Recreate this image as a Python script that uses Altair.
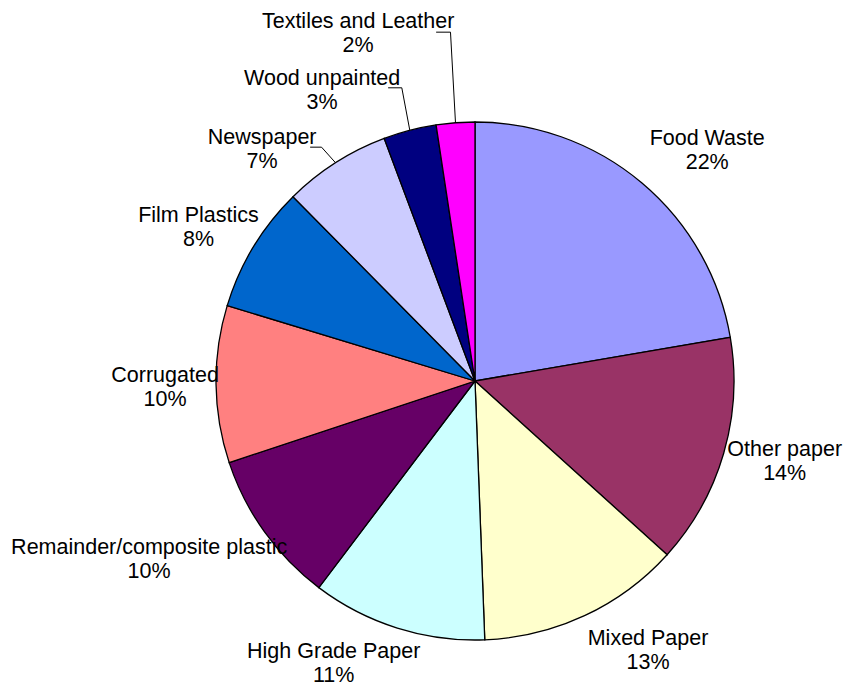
import altair as alt
import pandas as pd

categories = ["Food Waste", "Other paper", "Mixed Paper", "High Grade Paper",
              "Remainder/composite plastic", "Corrugated", "Film Plastics",
              "Newspaper", "Wood unpainted", "Textiles and Leather"]
values = [22.3, 14.4, 12.7, 10.9, 9.6, 9.8, 7.9, 6.7, 3.3, 2.4]
pct_labels = ["22%", "14%", "13%", "11%", "10%", "10%", "8%", "7%", "3%", "2%"]
colors = ["#9999FF", "#993366", "#FFFFCC", "#CCFFFF", "#660066",
          "#FF8080", "#0066CC", "#CCCCFF", "#000080", "#FF00FF"]

# label layout (radius in px, angular nudge in degrees from slice middle)
label_radius = [327, 320, 321, 316, 372, 310, 316, 314, 328, 366]
label_nudge = [5.1, -1.6, -7.6, 9.1, 6.8, -0.6, -2.2, -10.1, -13.2, -14.3]
# leader lines: has leader, start x offset, elbow gap, y offset
leader = [0, 0, 0, 0, 0, 0, 0, 1, 1, 1]
lead_sx = [0, 0, 0, 0, 0, 0, 0, 48, 66, 78]
lead_gap = [0, 0, 0, 0, 0, 0, 0, 14, 8, 5]
lead_dy = [0, 0, 0, 0, 0, 0, 0, -3, -3, -2]

CX, CY, R = 467, 373, 259

df = pd.DataFrame({
    "cat": categories, "value": values, "pct": pct_labels,
    "order": list(range(len(categories))),
    "lr": label_radius, "nudge": label_nudge,
    "lead": leader, "lsx": lead_sx, "lgap": lead_gap, "ldy": lead_dy,
})

base = alt.Chart(df)

arcs = base.mark_arc(outerRadius=R, stroke="black", strokeWidth=1.3).encode(
    theta=alt.Theta("value:Q", stack=True),
    color=alt.Color("cat:N", scale=alt.Scale(domain=categories, range=colors), legend=None),
    order=alt.Order("order:Q"),
    x=alt.value(CX), y=alt.value(CY),
)

calc = base.transform_joinaggregate(
    total="sum(value)"
).transform_window(
    cum="sum(value)", sort=[alt.SortField("order")], frame=[None, 0]
).transform_calculate(
    amid="(datum.cum - datum.value/2)/datum.total*2*PI",
).transform_calculate(
    alab="datum.amid + datum.nudge*PI/180",
    ex=f"{CX} + {R}*sin(datum.amid)",
    ey=f"{CY} - {R}*cos(datum.amid)",
).transform_calculate(
    px=f"{CX} + datum.lr*sin(datum.alab)",
    py=f"{CY} - datum.lr*cos(datum.alab)",
    txt="datum.cat + '\\n' + datum.pct",
).transform_calculate(
    hy="datum.py + datum.ldy",
    hx1="datum.px + datum.lsx",
    hx2="datum.ex - datum.lgap",
)

labels = calc.mark_text(
    font="Liberation Sans", fontSize=21.5, lineBreak="\n", lineHeight=24,
    align="center", baseline="middle", color="black", dy=-12,
).encode(
    x=alt.X("px:Q", scale=None), y=alt.Y("py:Q", scale=None), text="txt:N",
)

lead_h = calc.transform_filter("datum.lead == 1").mark_rule(color="black", strokeWidth=1).encode(
    x=alt.X("hx1:Q", scale=None), x2="hx2:Q",
    y=alt.Y("hy:Q", scale=None), y2="hy:Q",
)
lead_s = calc.transform_filter("datum.lead == 1").mark_rule(color="black", strokeWidth=1).encode(
    x=alt.X("hx2:Q", scale=None), x2="ex:Q",
    y=alt.Y("hy:Q", scale=None), y2="ey:Q",
)

chart = alt.layer(arcs, lead_h, lead_s, labels).properties(
    width=835, height=678, autosize=alt.AutoSizeParams(type="none"), padding=0,
    background="white",
).configure_view(stroke=None)

chart.save("out.html", embed_options={"renderer": "svg", "actions": False})
